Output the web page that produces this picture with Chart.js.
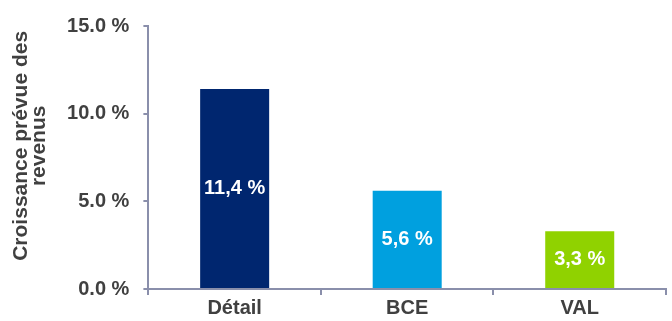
<!DOCTYPE html>
<html>
<head>
<meta charset="utf-8">
<script src="https://cdn.jsdelivr.net/npm/chart.js@4"></script>
<style>
  html, body { margin: 0; padding: 0; background: #fff; }
  #wrap { width: 672px; height: 321px; }
</style>
</head>
<body>
<div id="wrap"><canvas id="chart"></canvas></div>
<script>
const categories = ["Détail", "BCE", "VAL"];
const growthValues = [11.4, 5.6, 3.3];
const barLabels = ["11,4 %", "5,6 %", "3,3 %"];
const barColors = ["#00266f", "#00a0df", "#90d200"];
const yTicks = [0, 5, 10, 15];
const yTitle = ["    Croissance prévue des", "    revenus"];

const textColor = "#404040";
const axisColor = "#8a8fab";
const fontFamily = "'Liberation Sans', Arial, sans-serif";

// draw the value labels in the middle of each bar
const insideLabels = {
  id: "insideLabels",
  afterDatasetsDraw(chart) {
    const ctx = chart.ctx;
    const meta = chart.getDatasetMeta(0);
    ctx.save();
    ctx.fillStyle = "#ffffff";
    ctx.font = "bold 20px " + fontFamily;
    ctx.textAlign = "center";
    ctx.textBaseline = "middle";
    meta.data.forEach((bar, i) => {
      const mid = (bar.y + bar.base) / 2;
      ctx.fillText(barLabels[i], bar.x, mid);
    });
    ctx.restore();
  }
};

const ctx = document.getElementById("chart").getContext("2d");
new Chart(ctx, {
  type: "bar",
  data: {
    labels: categories,
    datasets: [
      {
        data: growthValues,
        backgroundColor: barColors,
        barPercentage: 0.4,
        categoryPercentage: 1.0,
      },
    ],
  },
  options: {
    responsive: true,
    maintainAspectRatio: false,
    animation: false,
    layout: { padding: { top: 14, right: 6, bottom: 0, left: 4 } },
    plugins: {
      legend: { display: false },
      tooltip: { enabled: false },
    },
    scales: {
      x: {
        grid: {
          drawOnChartArea: false,
          color: axisColor,
          tickLength: 6,
          lineWidth: 2,
        },
        border: { color: axisColor, width: 2 },
        ticks: {
          color: textColor,
          padding: 1,
          font: { family: fontFamily, size: 20, weight: "bold" },
        },
      },
      y: {
        min: 0,
        max: 15,
        afterBuildTicks(axis) {
          axis.ticks = yTicks.map((v) => ({ value: v }));
        },
        grid: {
          drawOnChartArea: false,
          color: axisColor,
          tickLength: 5,
          lineWidth: 2,
        },
        border: { color: axisColor, width: 2 },
        ticks: {
          color: textColor,
          padding: 14,
          callback: (v) => v.toFixed(1) + " %",
          font: { family: fontFamily, size: 20, weight: "bold" },
        },
        title: {
          display: true,
          text: yTitle,
          color: textColor,
          padding: { top: 8, bottom: 5 },
          font: { family: fontFamily, size: 21, weight: "bold", lineHeight: 0.86 },
        },
      },
    },
  },
  plugins: [insideLabels],
});
</script>
</body>
</html>
